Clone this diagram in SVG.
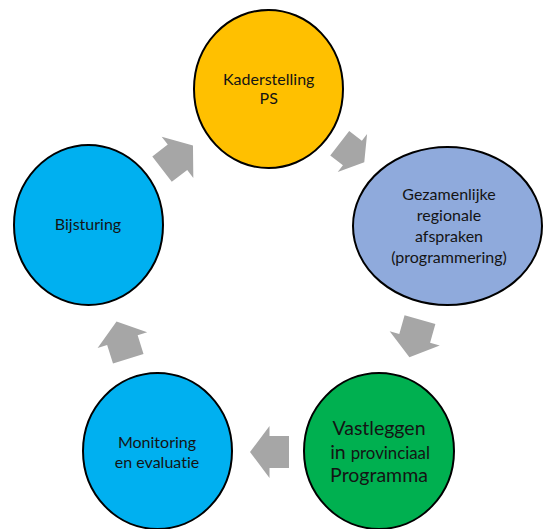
<svg xmlns="http://www.w3.org/2000/svg" width="544" height="529" viewBox="0 0 544 529">
  <defs>
    <style>
      .node { stroke: #000; stroke-width: 2; }
      .lbl { font-family: "Lato", "Liberation Sans", sans-serif; fill: #141414; text-anchor: middle; font-size: 16px; font-variant-ligatures: none; }
      .big { font-size: 19.5px; }
      .mid { font-size: 16.8px; }
      .arrow { fill: #A6A6A6; stroke: none; }
    </style>
    <polygon id="arr" points="-19.5,-16 0,-16 0,-26 19.5,0 0,26 0,16 -19.5,16"/>
  </defs>
  <rect width="544" height="529" fill="#fff"/>

  <g id="connectors">
    <use href="#arr" class="arrow" transform="translate(177.5,157.3) rotate(-37.5)"/>
    <polygon class="arrow" points="-15.5,-15.5 0.5,-15.5 0.5,-24 15.5,0 0.5,24 0.5,15.5 -15.5,15.5" transform="translate(352,152.8) rotate(37.7)"/>
    <use href="#arr" class="arrow" transform="translate(414.7,338.4) rotate(105.7)"/>
    <use href="#arr" class="arrow" transform="translate(269.5,452) rotate(180)"/>
    <use href="#arr" class="arrow" transform="translate(122.4,340.1) rotate(-107.5)"/>
  </g>

  <g id="kaderstelling">
    <ellipse class="node" cx="268.5" cy="89" rx="74.5" ry="79" fill="#FFC000"/>
    <text class="lbl" x="268.7" y="85">Kaderstelling</text>
    <text class="lbl" x="268.7" y="104">PS</text>
  </g>

  <g id="gezamenlijke">
    <ellipse class="node" cx="447.5" cy="226" rx="94.5" ry="79" fill="#8FAADC"/>
    <text class="lbl" x="449" y="200">Gezamenlijke</text>
    <text class="lbl" x="449" y="221">regionale</text>
    <text class="lbl" x="449" y="242">afspraken</text>
    <text class="lbl" x="449" y="263">(programmering)</text>
  </g>

  <g id="vastleggen">
    <ellipse class="node" cx="379" cy="451" rx="75" ry="78" fill="#00B050"/>
    <text class="lbl big" x="379" y="435">Vastleggen</text>
    <text class="lbl" x="380" y="459"><tspan class="big">in </tspan><tspan class="mid">provinciaal</tspan></text>
    <text class="lbl big" x="379" y="482">Programma</text>
  </g>

  <g id="monitoring">
    <ellipse class="node" cx="157.5" cy="451" rx="74.5" ry="78" fill="#00B0F0"/>
    <text class="lbl" x="157" y="448">Monitoring</text>
    <text class="lbl" x="157" y="468">en evaluatie</text>
  </g>

  <g id="bijsturing">
    <ellipse class="node" cx="88.5" cy="225" rx="74.5" ry="80" fill="#00B0F0"/>
    <text class="lbl" x="88" y="230">Bijsturing</text>
  </g>
</svg>
